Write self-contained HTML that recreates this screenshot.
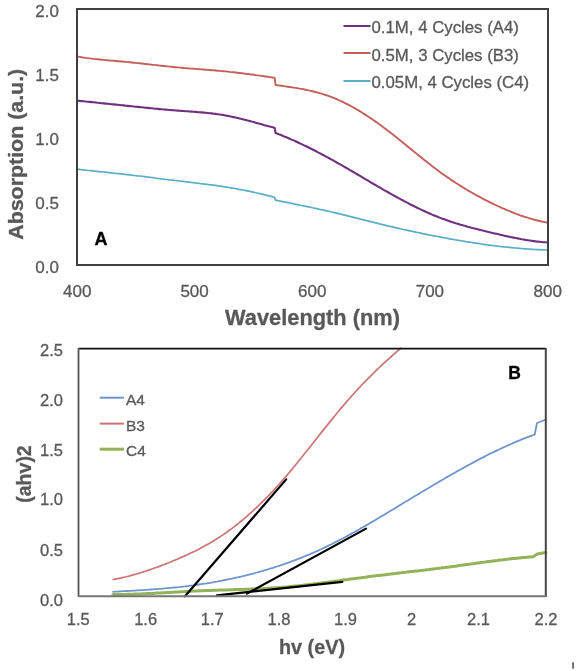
<!DOCTYPE html>
<html><head><meta charset="utf-8"><style>
html,body{margin:0;padding:0;background:#fff;}
svg{display:block;will-change:transform;}
text{font-family:"Liberation Sans",sans-serif;stroke-width:0.3px;}
</style></head><body>
<svg width="578" height="671" viewBox="0 0 578 671">
<rect width="578" height="671" fill="#fff"/>
<!-- ===== Top chart ===== -->
<g fill="none" stroke-linejoin="round" stroke-linecap="round">
<path d="M77.7,56.6 L79.7,56.9 L81.7,57.3 L83.7,57.6 L85.7,57.9 L87.7,58.1 L89.7,58.4 L91.7,58.6 L93.7,58.9 L95.7,59.1 L97.7,59.3 L99.7,59.5 L101.7,59.7 L103.7,59.9 L105.7,60.1 L107.7,60.3 L109.7,60.5 L111.7,60.6 L113.7,60.8 L115.7,61.0 L117.7,61.2 L119.7,61.3 L121.7,61.5 L123.7,61.7 L125.7,61.9 L127.7,62.1 L129.7,62.3 L131.7,62.5 L133.7,62.7 L135.7,62.9 L137.7,63.1 L139.7,63.3 L141.7,63.5 L143.7,63.8 L145.7,64.0 L147.7,64.2 L149.7,64.4 L151.7,64.7 L153.7,64.9 L155.7,65.1 L157.7,65.3 L159.7,65.6 L161.7,65.8 L163.7,66.0 L165.7,66.2 L167.7,66.4 L169.7,66.6 L171.7,66.8 L173.7,67.0 L175.7,67.2 L177.7,67.4 L179.7,67.6 L181.7,67.8 L183.7,68.0 L185.7,68.1 L187.7,68.3 L189.7,68.5 L191.7,68.6 L193.7,68.8 L195.7,68.9 L197.7,69.1 L199.7,69.2 L201.7,69.4 L203.7,69.5 L205.7,69.7 L207.7,69.9 L209.7,70.0 L211.7,70.2 L213.7,70.3 L215.7,70.5 L217.7,70.7 L219.7,70.9 L221.7,71.1 L223.7,71.2 L225.7,71.4 L227.7,71.6 L229.7,71.9 L231.7,72.1 L233.7,72.3 L235.7,72.5 L237.7,72.8 L239.7,73.0 L241.7,73.2 L243.7,73.5 L245.7,73.8 L247.7,74.0 L249.7,74.3 L251.7,74.5 L253.7,74.8 L255.7,75.1 L257.7,75.4 L259.7,75.6 L261.7,75.9 L263.7,76.2 L265.7,76.5 L267.7,76.8 L269.7,77.1 L271.7,77.4 L273.7,77.7 L274.6,77.8 L275.6,85.0 L277.6,85.3 L279.6,85.5 L281.6,85.8 L283.6,86.1 L285.6,86.4 L287.6,86.7 L289.6,87.0 L291.6,87.3 L293.6,87.6 L295.6,87.9 L297.6,88.2 L299.6,88.6 L301.6,88.9 L303.6,89.3 L305.6,89.7 L307.6,90.1 L309.6,90.6 L311.6,91.0 L313.6,91.5 L315.6,92.0 L317.6,92.6 L319.6,93.1 L321.6,93.7 L323.6,94.3 L325.6,95.0 L327.6,95.7 L329.6,96.4 L331.6,97.1 L333.6,97.9 L335.6,98.7 L337.6,99.6 L339.6,100.5 L341.6,101.4 L343.6,102.4 L345.6,103.4 L347.6,104.4 L349.6,105.4 L351.6,106.5 L353.6,107.6 L355.6,108.8 L357.6,109.9 L359.6,111.1 L361.6,112.3 L363.6,113.6 L365.6,114.9 L367.6,116.2 L369.6,117.5 L371.6,118.9 L373.6,120.2 L375.6,121.6 L377.6,123.0 L379.6,124.5 L381.6,125.9 L383.6,127.4 L385.6,128.9 L387.6,130.5 L389.6,132.0 L391.6,133.6 L393.6,135.1 L395.6,136.7 L397.6,138.3 L399.6,139.9 L401.6,141.5 L403.6,143.2 L405.6,144.8 L407.6,146.4 L409.6,148.0 L411.6,149.7 L413.6,151.3 L415.6,152.9 L417.6,154.6 L419.6,156.2 L421.6,157.8 L423.6,159.4 L425.6,161.0 L427.6,162.6 L429.6,164.1 L431.6,165.7 L433.6,167.2 L435.6,168.7 L437.6,170.2 L439.6,171.7 L441.6,173.2 L443.6,174.6 L445.6,176.0 L447.6,177.4 L449.6,178.8 L451.6,180.1 L453.6,181.4 L455.6,182.8 L457.6,184.0 L459.6,185.3 L461.6,186.6 L463.6,187.8 L465.6,189.0 L467.6,190.2 L469.6,191.4 L471.6,192.5 L473.6,193.6 L475.6,194.8 L477.6,195.9 L479.6,196.9 L481.6,198.0 L483.6,199.1 L485.6,200.1 L487.6,201.1 L489.6,202.1 L491.6,203.1 L493.6,204.1 L495.6,205.0 L497.6,206.0 L499.6,206.9 L501.6,207.8 L503.6,208.7 L505.6,209.5 L507.6,210.4 L509.6,211.2 L511.6,212.0 L513.6,212.8 L515.6,213.6 L517.6,214.3 L519.6,215.1 L521.6,215.8 L523.6,216.5 L525.6,217.1 L527.6,217.7 L529.6,218.4 L531.6,218.9 L533.6,219.5 L535.6,220.0 L537.6,220.5 L539.6,221.0 L541.6,221.5 L543.6,221.9 L545.6,222.3 L547.6,222.6 L548.0,222.7" stroke="#c4605b" stroke-width="1.9"/>
<path d="M77.7,100.7 L79.7,100.9 L81.7,101.1 L83.7,101.3 L85.7,101.5 L87.7,101.7 L89.7,101.9 L91.7,102.1 L93.7,102.3 L95.7,102.5 L97.7,102.8 L99.7,103.0 L101.7,103.2 L103.7,103.4 L105.7,103.6 L107.7,103.8 L109.7,104.0 L111.7,104.2 L113.7,104.4 L115.7,104.6 L117.7,104.8 L119.7,105.0 L121.7,105.2 L123.7,105.4 L125.7,105.7 L127.7,105.9 L129.7,106.1 L131.7,106.3 L133.7,106.5 L135.7,106.7 L137.7,106.9 L139.7,107.1 L141.7,107.3 L143.7,107.5 L145.7,107.7 L147.7,107.9 L149.7,108.1 L151.7,108.3 L153.7,108.5 L155.7,108.7 L157.7,108.9 L159.7,109.1 L161.7,109.3 L163.7,109.5 L165.7,109.6 L167.7,109.8 L169.7,110.0 L171.7,110.1 L173.7,110.3 L175.7,110.5 L177.7,110.6 L179.7,110.7 L181.7,110.9 L183.7,111.0 L185.7,111.2 L187.7,111.3 L189.7,111.5 L191.7,111.6 L193.7,111.7 L195.7,111.9 L197.7,112.1 L199.7,112.2 L201.7,112.4 L203.7,112.6 L205.7,112.8 L207.7,113.0 L209.7,113.2 L211.7,113.4 L213.7,113.7 L215.7,113.9 L217.7,114.2 L219.7,114.5 L221.7,114.8 L223.7,115.1 L225.7,115.5 L227.7,115.9 L229.7,116.3 L231.7,116.7 L233.7,117.1 L235.7,117.5 L237.7,118.0 L239.7,118.5 L241.7,119.0 L243.7,119.5 L245.7,120.0 L247.7,120.5 L249.7,121.0 L251.7,121.6 L253.7,122.1 L255.7,122.7 L257.7,123.2 L259.7,123.8 L261.7,124.3 L263.7,124.9 L265.7,125.4 L267.7,126.0 L269.7,126.5 L271.7,127.0 L273.7,127.6 L274.6,127.8 L275.6,133.0 L277.6,133.8 L279.6,134.6 L281.6,135.3 L283.6,136.2 L285.6,137.0 L287.6,137.8 L289.6,138.7 L291.6,139.6 L293.6,140.4 L295.6,141.3 L297.6,142.2 L299.6,143.2 L301.6,144.1 L303.6,145.1 L305.6,146.0 L307.6,147.0 L309.6,148.0 L311.6,149.0 L313.6,150.0 L315.6,151.0 L317.6,152.1 L319.6,153.1 L321.6,154.2 L323.6,155.2 L325.6,156.3 L327.6,157.4 L329.6,158.5 L331.6,159.6 L333.6,160.7 L335.6,161.8 L337.6,163.0 L339.6,164.1 L341.6,165.2 L343.6,166.4 L345.6,167.5 L347.6,168.7 L349.6,169.9 L351.6,171.0 L353.6,172.2 L355.6,173.4 L357.6,174.5 L359.6,175.7 L361.6,176.9 L363.6,178.1 L365.6,179.3 L367.6,180.4 L369.6,181.6 L371.6,182.8 L373.6,184.0 L375.6,185.1 L377.6,186.3 L379.6,187.4 L381.6,188.6 L383.6,189.8 L385.6,190.9 L387.6,192.0 L389.6,193.2 L391.6,194.3 L393.6,195.4 L395.6,196.5 L397.6,197.6 L399.6,198.7 L401.6,199.8 L403.6,200.8 L405.6,201.9 L407.6,202.9 L409.6,204.0 L411.6,205.0 L413.6,206.0 L415.6,207.0 L417.6,208.0 L419.6,208.9 L421.6,209.9 L423.6,210.8 L425.6,211.7 L427.6,212.6 L429.6,213.5 L431.6,214.4 L433.6,215.2 L435.6,216.0 L437.6,216.8 L439.6,217.6 L441.6,218.4 L443.6,219.1 L445.6,219.8 L447.6,220.5 L449.6,221.2 L451.6,221.9 L453.6,222.5 L455.6,223.2 L457.6,223.8 L459.6,224.4 L461.6,225.0 L463.6,225.6 L465.6,226.1 L467.6,226.7 L469.6,227.2 L471.6,227.8 L473.6,228.3 L475.6,228.8 L477.6,229.3 L479.6,229.8 L481.6,230.3 L483.6,230.8 L485.6,231.3 L487.6,231.8 L489.6,232.2 L491.6,232.7 L493.6,233.2 L495.6,233.6 L497.6,234.1 L499.6,234.6 L501.6,235.0 L503.6,235.5 L505.6,235.9 L507.6,236.4 L509.6,236.8 L511.6,237.2 L513.6,237.6 L515.6,238.0 L517.6,238.4 L519.6,238.8 L521.6,239.2 L523.6,239.5 L525.6,239.9 L527.6,240.2 L529.6,240.5 L531.6,240.8 L533.6,241.1 L535.6,241.4 L537.6,241.6 L539.6,241.8 L541.6,242.0 L543.6,242.2 L545.6,242.3 L547.6,242.5 L548.0,242.5" stroke="#70307f" stroke-width="2.1"/>
<path d="M77.0,169.1 L79.0,169.3 L81.0,169.6 L83.0,169.8 L85.0,170.0 L87.0,170.3 L89.0,170.5 L91.0,170.7 L93.0,170.9 L95.0,171.2 L97.0,171.4 L99.0,171.6 L101.0,171.8 L103.0,172.0 L105.0,172.2 L107.0,172.4 L109.0,172.6 L111.0,172.8 L113.0,173.1 L115.0,173.3 L117.0,173.5 L119.0,173.7 L121.0,173.9 L123.0,174.1 L125.0,174.4 L127.0,174.6 L129.0,174.8 L131.0,175.0 L133.0,175.3 L135.0,175.5 L137.0,175.8 L139.0,176.0 L141.0,176.2 L143.0,176.5 L145.0,176.7 L147.0,177.0 L149.0,177.2 L151.0,177.5 L153.0,177.7 L155.0,178.0 L157.0,178.3 L159.0,178.5 L161.0,178.8 L163.0,179.0 L165.0,179.3 L167.0,179.5 L169.0,179.8 L171.0,180.0 L173.0,180.2 L175.0,180.5 L177.0,180.7 L179.0,181.0 L181.0,181.2 L183.0,181.4 L185.0,181.7 L187.0,181.9 L189.0,182.1 L191.0,182.4 L193.0,182.6 L195.0,182.8 L197.0,183.1 L199.0,183.3 L201.0,183.6 L203.0,183.8 L205.0,184.1 L207.0,184.3 L209.0,184.6 L211.0,184.8 L213.0,185.1 L215.0,185.4 L217.0,185.7 L219.0,186.0 L221.0,186.2 L223.0,186.6 L225.0,186.9 L227.0,187.2 L229.0,187.5 L231.0,187.8 L233.0,188.2 L235.0,188.5 L237.0,188.9 L239.0,189.3 L241.0,189.6 L243.0,190.0 L245.0,190.4 L247.0,190.8 L249.0,191.2 L251.0,191.7 L253.0,192.1 L255.0,192.5 L257.0,193.0 L259.0,193.4 L261.0,193.9 L263.0,194.4 L265.0,194.9 L267.0,195.4 L269.0,195.9 L271.0,196.4 L273.0,196.9 L274.4,197.3 L275.6,200.2 L277.6,200.6 L279.6,201.0 L281.6,201.4 L283.6,201.8 L285.6,202.2 L287.6,202.6 L289.6,203.0 L291.6,203.4 L293.6,203.8 L295.6,204.3 L297.6,204.7 L299.6,205.1 L301.6,205.5 L303.6,205.9 L305.6,206.3 L307.6,206.7 L309.6,207.1 L311.6,207.5 L313.6,208.0 L315.6,208.4 L317.6,208.8 L319.6,209.3 L321.6,209.7 L323.6,210.1 L325.6,210.6 L327.6,211.0 L329.6,211.5 L331.6,212.0 L333.6,212.4 L335.6,212.9 L337.6,213.4 L339.6,213.9 L341.6,214.3 L343.6,214.8 L345.6,215.3 L347.6,215.8 L349.6,216.3 L351.6,216.8 L353.6,217.3 L355.6,217.8 L357.6,218.3 L359.6,218.8 L361.6,219.3 L363.6,219.9 L365.6,220.4 L367.6,220.9 L369.6,221.4 L371.6,221.9 L373.6,222.4 L375.6,222.9 L377.6,223.4 L379.6,223.9 L381.6,224.3 L383.6,224.8 L385.6,225.3 L387.6,225.8 L389.6,226.3 L391.6,226.7 L393.6,227.2 L395.6,227.7 L397.6,228.1 L399.6,228.6 L401.6,229.0 L403.6,229.5 L405.6,229.9 L407.6,230.4 L409.6,230.8 L411.6,231.2 L413.6,231.7 L415.6,232.1 L417.6,232.5 L419.6,232.9 L421.6,233.3 L423.6,233.8 L425.6,234.2 L427.6,234.6 L429.6,235.0 L431.6,235.4 L433.6,235.8 L435.6,236.2 L437.6,236.5 L439.6,236.9 L441.6,237.3 L443.6,237.7 L445.6,238.0 L447.6,238.4 L449.6,238.8 L451.6,239.1 L453.6,239.5 L455.6,239.9 L457.6,240.2 L459.6,240.5 L461.6,240.9 L463.6,241.2 L465.6,241.6 L467.6,241.9 L469.6,242.2 L471.6,242.5 L473.6,242.8 L475.6,243.1 L477.6,243.4 L479.6,243.7 L481.6,244.0 L483.6,244.3 L485.6,244.6 L487.6,244.9 L489.6,245.1 L491.6,245.4 L493.6,245.6 L495.6,245.9 L497.6,246.1 L499.6,246.4 L501.6,246.6 L503.6,246.8 L505.6,247.0 L507.6,247.2 L509.6,247.4 L511.6,247.6 L513.6,247.8 L515.6,248.0 L517.6,248.2 L519.6,248.4 L521.6,248.5 L523.6,248.7 L525.6,248.8 L527.6,249.0 L529.6,249.1 L531.6,249.3 L533.6,249.4 L535.6,249.5 L537.6,249.6 L539.6,249.7 L541.6,249.8 L543.6,249.9 L545.6,250.0 L547.6,250.1 L548.0,250.1" stroke="#5aaec6" stroke-width="1.75"/>
</g>
<rect x="77" y="9" width="471" height="256" fill="none" stroke="#3f3f3f" stroke-width="2"/>
<g font-size="17" fill="#595959" stroke="#595959" text-anchor="end">
<text x="59" y="17">2.0</text>
<text x="59" y="81">1.5</text>
<text x="59" y="145">1.0</text>
<text x="59" y="209">0.5</text>
<text x="59" y="273">0.0</text>
</g>
<g font-size="17" fill="#595959" stroke="#595959" text-anchor="middle">
<text x="77.2" y="297">400</text>
<text x="194.6" y="297">500</text>
<text x="312.2" y="297">600</text>
<text x="429.9" y="297">700</text>
<text x="547.8" y="297">800</text>
</g>
<text x="312.5" y="324.5" font-size="21.8" font-weight="bold" fill="#595959" stroke="#595959" text-anchor="middle">Wavelength (nm)</text>
<text transform="translate(23.3,154.3) rotate(-90)" textLength="171" lengthAdjust="spacingAndGlyphs" font-size="20" font-weight="bold" fill="#595959" stroke="#595959" text-anchor="middle">Absorption (a.u.)</text>
<text x="94.5" y="245" font-size="18" font-weight="bold" fill="#000" stroke="#000">A</text>
<g stroke-width="2">
<line x1="343.5" y1="26" x2="370.5" y2="26" stroke="#70307f"/>
<line x1="343.5" y1="53" x2="370.5" y2="53" stroke="#c4605b"/>
<line x1="343.5" y1="81" x2="370.5" y2="81" stroke="#5aaec6"/>
</g>
<g font-size="16.8" fill="#595959" stroke="#595959">
<text x="371.5" y="33">0.1M, 4 Cycles (A4)</text>
<text x="371.5" y="60.5">0.5M, 3 Cycles (B3)</text>
<text x="371.5" y="88">0.05M, 4 Cycles (C4)</text>
</g>
<!-- ===== Bottom chart ===== -->
<g fill="none" stroke-linejoin="round" stroke-linecap="round">
<path d="M113.3,579.5 L115.3,579.1 L117.3,578.7 L119.3,578.3 L121.3,577.9 L123.3,577.4 L125.3,577.0 L127.3,576.5 L129.3,576.0 L131.3,575.4 L133.3,574.9 L135.3,574.3 L137.3,573.7 L139.3,573.1 L141.3,572.5 L143.3,571.9 L145.3,571.3 L147.3,570.6 L149.3,569.9 L151.3,569.2 L153.3,568.5 L155.3,567.8 L157.3,567.1 L159.3,566.4 L161.3,565.6 L163.3,564.8 L165.3,564.1 L167.3,563.3 L169.3,562.5 L171.3,561.7 L173.3,560.8 L175.3,560.0 L177.3,559.2 L179.3,558.3 L181.3,557.4 L183.3,556.5 L185.3,555.6 L187.3,554.7 L189.3,553.8 L191.3,552.8 L193.3,551.9 L195.3,550.9 L197.3,549.9 L199.3,548.9 L201.3,547.8 L203.3,546.7 L205.3,545.6 L207.3,544.5 L209.3,543.4 L211.3,542.2 L213.3,541.0 L215.3,539.8 L217.3,538.5 L219.3,537.2 L221.3,535.9 L223.3,534.6 L225.3,533.2 L227.3,531.8 L229.3,530.3 L231.3,528.9 L233.3,527.4 L235.3,525.8 L237.3,524.3 L239.3,522.7 L241.3,521.0 L243.3,519.3 L245.3,517.6 L247.3,515.9 L249.3,514.1 L251.3,512.4 L253.3,510.5 L255.3,508.7 L257.3,506.8 L259.3,504.9 L261.3,502.9 L263.3,500.9 L265.3,498.9 L267.3,496.9 L269.3,494.8 L271.3,492.7 L273.3,490.6 L275.3,488.4 L277.3,486.2 L279.3,484.0 L281.3,481.7 L283.3,479.5 L285.3,477.2 L287.3,474.8 L289.3,472.5 L291.3,470.1 L293.3,467.7 L295.3,465.2 L297.3,462.8 L299.3,460.3 L301.3,457.8 L303.3,455.3 L305.3,452.8 L307.3,450.3 L309.3,447.8 L311.3,445.3 L313.3,442.7 L315.3,440.2 L317.3,437.7 L319.3,435.1 L321.3,432.6 L323.3,430.1 L325.3,427.6 L327.3,425.1 L329.3,422.6 L331.3,420.1 L333.3,417.6 L335.3,415.2 L337.3,412.7 L339.3,410.3 L341.3,407.9 L343.3,405.6 L345.3,403.3 L347.3,400.9 L349.3,398.7 L351.3,396.4 L353.3,394.2 L355.3,392.0 L357.3,389.8 L359.3,387.7 L361.3,385.5 L363.3,383.4 L365.3,381.4 L367.3,379.3 L369.3,377.3 L371.3,375.3 L373.3,373.3 L375.3,371.3 L377.3,369.4 L379.3,367.5 L381.3,365.6 L383.3,363.7 L385.3,361.9 L387.3,360.1 L389.3,358.3 L391.3,356.5 L393.3,354.7 L395.3,353.0 L397.3,351.2 L399.3,349.5 L401.0,348.1" stroke="#cc7474" stroke-width="1.7"/>
<path d="M113.0,591.8 L115.0,591.7 L117.0,591.6 L119.0,591.5 L121.0,591.4 L123.0,591.2 L125.0,591.1 L127.0,591.0 L129.0,590.9 L131.0,590.8 L133.0,590.7 L135.0,590.6 L137.0,590.4 L139.0,590.3 L141.0,590.2 L143.0,590.1 L145.0,589.9 L147.0,589.8 L149.0,589.7 L151.0,589.5 L153.0,589.4 L155.0,589.2 L157.0,589.1 L159.0,588.9 L161.0,588.8 L163.0,588.6 L165.0,588.4 L167.0,588.2 L169.0,588.1 L171.0,587.9 L173.0,587.7 L175.0,587.5 L177.0,587.3 L179.0,587.1 L181.0,586.8 L183.0,586.6 L185.0,586.4 L187.0,586.1 L189.0,585.9 L191.0,585.6 L193.0,585.4 L195.0,585.1 L197.0,584.8 L199.0,584.5 L201.0,584.2 L203.0,583.9 L205.0,583.6 L207.0,583.3 L209.0,583.0 L211.0,582.6 L213.0,582.3 L215.0,581.9 L217.0,581.6 L219.0,581.2 L221.0,580.8 L223.0,580.4 L225.0,580.0 L227.0,579.6 L229.0,579.2 L231.0,578.8 L233.0,578.4 L235.0,577.9 L237.0,577.5 L239.0,577.0 L241.0,576.6 L243.0,576.1 L245.0,575.6 L247.0,575.1 L249.0,574.6 L251.0,574.1 L253.0,573.6 L255.0,573.0 L257.0,572.5 L259.0,571.9 L261.0,571.4 L263.0,570.8 L265.0,570.2 L267.0,569.6 L269.0,569.0 L271.0,568.4 L273.0,567.8 L275.0,567.1 L277.0,566.5 L279.0,565.8 L281.0,565.2 L283.0,564.5 L285.0,563.8 L287.0,563.1 L289.0,562.4 L291.0,561.7 L293.0,560.9 L295.0,560.2 L297.0,559.4 L299.0,558.6 L301.0,557.8 L303.0,557.0 L305.0,556.2 L307.0,555.4 L309.0,554.6 L311.0,553.7 L313.0,552.9 L315.0,552.0 L317.0,551.1 L319.0,550.2 L321.0,549.3 L323.0,548.3 L325.0,547.4 L327.0,546.4 L329.0,545.4 L331.0,544.5 L333.0,543.5 L335.0,542.4 L337.0,541.4 L339.0,540.4 L341.0,539.3 L343.0,538.3 L345.0,537.2 L347.0,536.1 L349.0,535.0 L351.0,533.9 L353.0,532.8 L355.0,531.7 L357.0,530.6 L359.0,529.5 L361.0,528.3 L363.0,527.2 L365.0,526.0 L367.0,524.9 L369.0,523.7 L371.0,522.5 L373.0,521.4 L375.0,520.2 L377.0,519.0 L379.0,517.8 L381.0,516.6 L383.0,515.4 L385.0,514.2 L387.0,513.0 L389.0,511.8 L391.0,510.6 L393.0,509.4 L395.0,508.2 L397.0,507.0 L399.0,505.8 L401.0,504.6 L403.0,503.3 L405.0,502.1 L407.0,500.9 L409.0,499.7 L411.0,498.5 L413.0,497.3 L415.0,496.1 L417.0,494.9 L419.0,493.7 L421.0,492.5 L423.0,491.3 L425.0,490.1 L427.0,488.9 L429.0,487.7 L431.0,486.5 L433.0,485.3 L435.0,484.1 L437.0,483.0 L439.0,481.8 L441.0,480.6 L443.0,479.5 L445.0,478.3 L447.0,477.1 L449.0,476.0 L451.0,474.8 L453.0,473.7 L455.0,472.6 L457.0,471.4 L459.0,470.3 L461.0,469.2 L463.0,468.1 L465.0,467.0 L467.0,465.9 L469.0,464.8 L471.0,463.7 L473.0,462.6 L475.0,461.6 L477.0,460.5 L479.0,459.4 L481.0,458.4 L483.0,457.4 L485.0,456.4 L487.0,455.3 L489.0,454.3 L491.0,453.3 L493.0,452.4 L495.0,451.4 L497.0,450.4 L499.0,449.5 L501.0,448.5 L503.0,447.6 L505.0,446.7 L507.0,445.8 L509.0,444.9 L511.0,444.0 L513.0,443.1 L515.0,442.2 L517.0,441.4 L519.0,440.6 L521.0,439.7 L523.0,438.9 L525.0,438.1 L527.0,437.4 L529.0,436.6 L531.0,435.8 L533.0,435.1 L534.7,434.5 L537.0,423.0 L539.8,422.0 L545.8,419.5" stroke="#6e96cc" stroke-width="1.8"/>
<path d="M113.0,594.4 L115.0,594.4 L117.0,594.4 L119.0,594.4 L121.0,594.4 L123.0,594.4 L125.0,594.4 L127.0,594.3 L129.0,594.3 L131.0,594.2 L133.0,594.2 L135.0,594.1 L137.0,594.1 L139.0,594.0 L141.0,593.9 L143.0,593.8 L145.0,593.7 L147.0,593.6 L149.0,593.6 L151.0,593.5 L153.0,593.4 L155.0,593.2 L157.0,593.1 L159.0,593.0 L161.0,592.9 L163.0,592.8 L165.0,592.7 L167.0,592.6 L169.0,592.5 L171.0,592.3 L173.0,592.2 L175.0,592.1 L177.0,592.0 L179.0,591.9 L181.0,591.8 L183.0,591.7 L185.0,591.5 L187.0,591.4 L189.0,591.3 L191.0,591.2 L193.0,591.1 L195.0,591.0 L197.0,590.9 L199.0,590.8 L201.0,590.8 L203.0,590.7 L205.0,590.6 L207.0,590.5 L209.0,590.5 L211.0,590.4 L213.0,590.3 L215.0,590.3 L217.0,590.2 L219.0,590.1 L221.0,590.1 L223.0,590.0 L225.0,589.9 L227.0,589.9 L229.0,589.8 L231.0,589.8 L233.0,589.7 L235.0,589.6 L237.0,589.6 L239.0,589.5 L241.0,589.5 L243.0,589.4 L245.0,589.3 L247.0,589.2 L249.0,589.2 L251.0,589.1 L253.0,589.0 L255.0,588.9 L257.0,588.8 L259.0,588.8 L261.0,588.7 L263.0,588.6 L265.0,588.4 L267.0,588.3 L269.0,588.2 L271.0,588.1 L273.0,588.0 L275.0,587.8 L277.0,587.7 L279.0,587.5 L281.0,587.4 L283.0,587.2 L285.0,587.1 L287.0,586.9 L289.0,586.7 L291.0,586.5 L293.0,586.3 L295.0,586.1 L297.0,585.9 L299.0,585.7 L301.0,585.5 L303.0,585.3 L305.0,585.0 L307.0,584.8 L309.0,584.6 L311.0,584.3 L313.0,584.1 L315.0,583.8 L317.0,583.6 L319.0,583.3 L321.0,583.1 L323.0,582.8 L325.0,582.5 L327.0,582.3 L329.0,582.0 L331.0,581.7 L333.0,581.5 L335.0,581.2 L337.0,580.9 L339.0,580.7 L341.0,580.4 L343.0,580.1 L345.0,579.8 L347.0,579.6 L349.0,579.3 L351.0,579.0 L353.0,578.8 L355.0,578.5 L357.0,578.2 L359.0,577.9 L361.0,577.7 L363.0,577.4 L365.0,577.2 L367.0,576.9 L369.0,576.6 L371.0,576.4 L373.0,576.1 L375.0,575.9 L377.0,575.6 L379.0,575.4 L381.0,575.2 L383.0,574.9 L385.0,574.7 L387.0,574.4 L389.0,574.2 L391.0,574.0 L393.0,573.7 L395.0,573.5 L397.0,573.2 L399.0,573.0 L401.0,572.8 L403.0,572.5 L405.0,572.3 L407.0,572.1 L409.0,571.8 L411.0,571.6 L413.0,571.4 L415.0,571.1 L417.0,570.9 L419.0,570.7 L421.0,570.4 L423.0,570.2 L425.0,570.0 L427.0,569.7 L429.0,569.5 L431.0,569.2 L433.0,569.0 L435.0,568.7 L437.0,568.5 L439.0,568.2 L441.0,568.0 L443.0,567.7 L445.0,567.5 L447.0,567.2 L449.0,567.0 L451.0,566.7 L453.0,566.4 L455.0,566.2 L457.0,565.9 L459.0,565.6 L461.0,565.3 L463.0,565.1 L465.0,564.8 L467.0,564.5 L469.0,564.2 L471.0,564.0 L473.0,563.7 L475.0,563.4 L477.0,563.1 L479.0,562.9 L481.0,562.6 L483.0,562.3 L485.0,562.1 L487.0,561.8 L489.0,561.5 L491.0,561.3 L493.0,561.0 L495.0,560.7 L497.0,560.5 L499.0,560.2 L501.0,560.0 L503.0,559.8 L505.0,559.5 L507.0,559.3 L509.0,559.1 L511.0,558.8 L513.0,558.6 L515.0,558.4 L517.0,558.2 L519.0,558.0 L521.0,557.8 L523.0,557.6 L525.0,557.4 L527.0,557.3 L529.0,557.1 L531.0,556.9 L533.0,556.8 L537.4,553.9 L545.8,552.5" stroke="#93b358" stroke-width="3"/>
</g>
<g stroke="#000" stroke-width="2.2" stroke-linecap="round">
<line x1="185" y1="596.3" x2="286.2" y2="479.4"/>
<line x1="247" y1="593.6" x2="366" y2="528.6"/>
<line x1="217" y1="595.3" x2="342.3" y2="581.8"/>
</g>
<line x1="78.5" y1="348.6" x2="545.8" y2="348.6" stroke="#111" stroke-width="1.8"/>
<line x1="78.5" y1="348" x2="78.5" y2="597" stroke="#555" stroke-width="1.8"/>
<line x1="545.8" y1="348" x2="545.8" y2="597" stroke="#444" stroke-width="2"/>
<line x1="78" y1="596.3" x2="546.5" y2="596.3" stroke="#777" stroke-width="2"/>
<g font-size="16.5" fill="#595959" stroke="#595959" text-anchor="end">
<text x="63" y="356">2.5</text>
<text x="63" y="405.5">2.0</text>
<text x="63" y="455.5">1.5</text>
<text x="63" y="505.2">1.0</text>
<text x="63" y="556.2">0.5</text>
<text x="63" y="605.5">0.0</text>
</g>
<g font-size="16.5" fill="#595959" stroke="#595959" text-anchor="middle">
<text x="78.2" y="624.6">1.5</text>
<text x="145.6" y="624.6">1.6</text>
<text x="212.3" y="624.6">1.7</text>
<text x="279" y="624.6">1.8</text>
<text x="345.5" y="624.6">1.9</text>
<text x="411.5" y="624.6">2</text>
<text x="478.5" y="624.6">2.1</text>
<text x="546" y="624.6">2.2</text>
</g>
<text x="312" y="653.7" font-size="19.8" font-weight="bold" fill="#595959" stroke="#595959" text-anchor="middle">hv (eV)</text>
<text transform="translate(30.8,474) rotate(-90)" font-size="19.5" font-weight="bold" fill="#595959" stroke="#595959" text-anchor="middle">(ahv)2</text>
<text x="508.3" y="378.5" font-size="17.5" font-weight="bold" fill="#000" stroke="#000">B</text>
<line x1="99.7" y1="397.7" x2="123.9" y2="397.7" stroke="#6e96cc" stroke-width="2"/>
<line x1="99.7" y1="423.6" x2="123.9" y2="423.6" stroke="#cc7474" stroke-width="2"/>
<line x1="99.7" y1="449.2" x2="123.9" y2="449.2" stroke="#93b358" stroke-width="3"/>
<g font-size="15.5" fill="#595959" stroke="#595959">
<text x="126" y="405">A4</text>
<text x="126" y="430.5">B3</text>
<text x="126" y="456">C4</text>
</g>
<rect x="572.2" y="662.3" width="1.7" height="6.3" fill="#5a5a5a"/>
</svg>
</body></html>
